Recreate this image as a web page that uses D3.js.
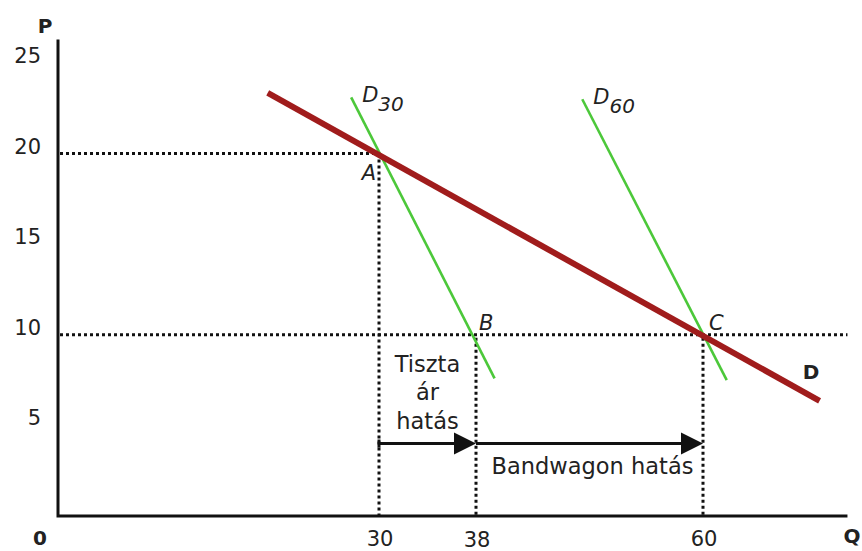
<!DOCTYPE html>
<html>
<head>
<meta charset="utf-8">
<script src="https://cdn.jsdelivr.net/npm/d3@7"></script>
<style>
  html, body { margin: 0; padding: 0; background: #fff; }
  svg { display: block; font-family: 'DejaVu Sans', sans-serif; }
</style>
</head>
<body>
<div id="chart"></div>
<script>
/* ── data (Q, P) ─────────────────────────────────────────────────── */
const demandD   = [[19.6, 23.35], [71.3, 6.35]];
const demandD30 = [[27.4, 23.1], [39.8, 7.6]];
const demandD60 = [[48.3, 23.0], [62.3, 7.5]];
const points = [
  { name: 'A', q: 30, p: 20 },
  { name: 'B', q: 38, p: 10 },
  { name: 'C', q: 60, p: 10 }
];
const yTicks = [5, 10, 15, 20, 25];
const xTicks = [30, 38, 60];
const arrows = [{ from: 30, to: 38 }, { from: 38, to: 60 }];
const arrowP = 4;
const qMax = 74, pMax = 26.3;

/* ── setup ───────────────────────────────────────────────────────── */
const W = 862, H = 551;
const svg = d3.select('#chart').append('svg')
  .attr('width', W).attr('height', H);

/* the sketch's Q axis is not evenly spaced, so use a polylinear scale */
const x = d3.scaleLinear().domain([0, 30, 38, 60]).range([58, 379, 476, 703]);
const y = d3.scaleLinear().domain([0, 25]).range([516, 63]);

const dotted = (x1, y1, x2, y2) => svg.append('line')
  .attr('x1', x1).attr('y1', y1).attr('x2', x2).attr('y2', y2)
  .attr('stroke', '#111').attr('stroke-width', 3)
  .attr('stroke-dasharray', '3,3');

/* dotted guides */
const A = points[0], B = points[1], C = points[2];
dotted(x(0) + 2, y(A.p), x(A.q), y(A.p));
dotted(x(0) + 2, y(C.p), x(qMax), y(C.p));
dotted(x(A.q), y(A.p) + 6, x(A.q), y(0));
dotted(x(B.q), y(B.p) + 3, x(B.q), y(0));
dotted(x(C.q), y(C.p) + 3, x(C.q), y(0));

/* curves */
const line = d3.line().x(d => x(d[0])).y(d => y(d[1]));
[demandD30, demandD60].forEach(d => {
  svg.append('path').attr('d', line(d))
    .attr('stroke', '#4cc83a').attr('stroke-width', 2.6).attr('fill', 'none');
});
svg.append('path').attr('d', line(demandD))
  .attr('stroke', '#a01c1c').attr('stroke-width', 6).attr('fill', 'none');

/* axes */
svg.append('path')
  .attr('d', `M${x(0)},${y(pMax)}V${y(0)}H${x(qMax)}`)
  .attr('stroke', '#111').attr('stroke-width', 3).attr('fill', 'none');

const txt = (t, px, py, opts = {}) => svg.append('text')
  .attr('x', px).attr('y', py)
  .attr('font-size', opts.size || 20)
  .attr('font-style', opts.italic ? 'italic' : null)
  .attr('font-weight', opts.bold ? 'bold' : null)
  .attr('text-anchor', opts.anchor || 'start')
  .attr('fill', '#222').text(t);

yTicks.forEach(v => txt(v, 41, y(v), { anchor: 'end', size: 21 }));
xTicks.forEach(v => txt(v, x(v) + 1, 546 + (v === 38 ? 1 : 0), { anchor: 'middle', size: 21 }));

txt('P', 45, 33, { bold: true, anchor: 'middle', size: 20 });
txt('0', 40, 545, { bold: true, anchor: 'middle', size: 20 });
txt('Q', 852, 543, { bold: true, anchor: 'middle', size: 20 });
txt('D', 811, 379, { bold: true, anchor: 'middle', size: 20 });

/* point labels */
txt('A', x(A.q) - 3, y(A.p) + 26, { italic: true, anchor: 'end', size: 21 });
txt('B', x(B.q) + 3, y(B.p) - 5, { italic: true, size: 21 });
txt('C', x(C.q) + 6, y(C.p) - 5, { italic: true, size: 21 });

/* D30 / D60 labels with subscripts */
[['30', demandD30], ['60', demandD60]].forEach(([sub, d]) => {
  const t = svg.append('text')
    .attr('x', x(d[0][0]) + 11).attr('y', y(d[0][1]) + 5)
    .attr('font-size', 21).attr('font-style', 'italic').attr('fill', '#222');
  t.append('tspan').text('D');
  t.append('tspan').attr('dy', 9).attr('font-size', 20).text(sub);
});

/* arrows */
arrows.forEach((a, i) => {
  const x1 = x(a.from), x2 = x(a.to), yy = y(arrowP);
  svg.append('line').attr('x1', x1).attr('y1', yy).attr('x2', x2 - 18).attr('y2', yy)
    .attr('stroke', '#111').attr('stroke-width', 3);
  svg.append('path')
    .attr('d', `M${x2},${yy}L${x2 - 22},${yy - 11}L${x2 - 22},${yy + 11}Z`)
    .attr('fill', '#111');
  if (i === 0) {
    svg.append('line').attr('x1', x1).attr('x2', x1)
      .attr('y1', yy - 4).attr('y2', yy + 4)
      .attr('stroke', '#111').attr('stroke-width', 3);
  }
});

/* effect labels */
const mid1 = (x(30) + x(38)) / 2;
['Tiszta', 'ár', 'hatás'].forEach((s, i) =>
  txt(s, mid1, y(arrowP) - 72 + i * 28.5, { anchor: 'middle', size: 22.5 }));
txt('Bandwagon hatás', (x(38) + x(60)) / 2 + 3, y(arrowP) + 30, { anchor: 'middle', size: 22.5 });
</script>
</body>
</html>
